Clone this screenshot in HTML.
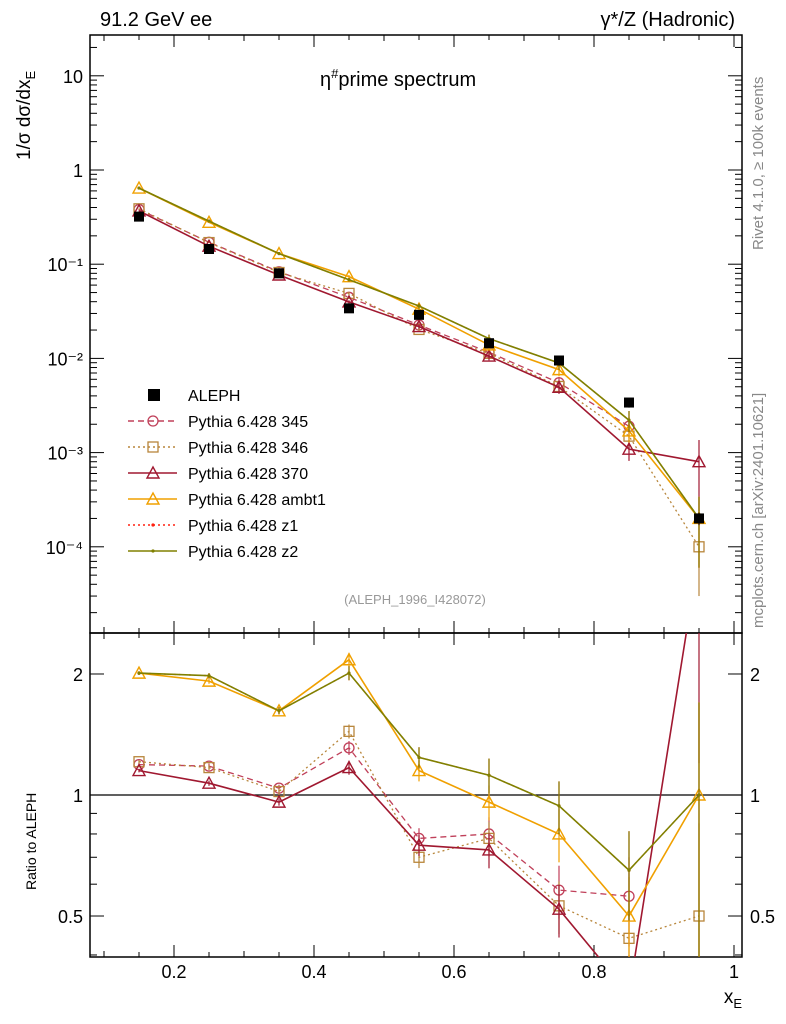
<!DOCTYPE html>
<html><head><meta charset="utf-8">
<style>
html,body{margin:0;padding:0;background:#fff;width:786px;height:1024px;overflow:hidden;}
svg{display:block;}
svg text{font-family:"Liberation Sans",sans-serif;}
</style></head>
<body>
<svg id="chart" width="786" height="1024" xmlns="http://www.w3.org/2000/svg">
<rect width="786" height="1024" fill="#fff"/>
<text x="100" y="26" font-size="20">91.2 GeV ee</text>
<text x="735" y="26" font-size="20" text-anchor="end">γ*/Z (Hadronic)</text>
<text x="320" y="86" font-size="20">η<tspan font-size="13" dy="-8">#</tspan><tspan dy="8">prime spectrum</tspan></text>
<text x="415" y="604" font-size="13" fill="#999" text-anchor="middle">(ALEPH_1996_I428072)</text>
<text transform="translate(763,250) rotate(-90)" font-size="15" fill="#888">Rivet 4.1.0, ≥ 100k events</text>
<text transform="translate(763,628) rotate(-90)" font-size="15" fill="#888">mcplots.cern.ch [arXiv:2401.10621]</text>
<text transform="translate(30,160) rotate(-90)" font-size="19">1/σ  dσ/dx<tspan font-size="13" dy="5">E</tspan></text>
<text transform="translate(36,890) rotate(-90)" font-size="14">Ratio to ALEPH</text>
<text x="742" y="1003" font-size="19" text-anchor="end">x<tspan font-size="13" dy="5">E</tspan></text>
<g id="g"></g>
</svg>
<script>
const xs=[0.15,0.25,0.35,0.45,0.55,0.65,0.75,0.85,0.95];
const aleph=[0.32,0.145,0.08,0.034,0.029,0.0145,0.0095,0.0034,0.0002];
const alephErr=[0.02,0.01,0.005,0.003,0.003,0.0015,0.001,0.0004,0.00003];
const r345=[1.19,1.18,1.04,1.31,0.78,0.80,0.58,0.56,null];
const r346=[1.21,1.17,1.02,1.44,0.70,0.78,0.53,0.44,0.5];
const r370=[1.15,1.07,0.96,1.17,0.75,0.73,0.52,0.32,4.0];
const rAmbt1=[2.01,1.92,1.62,2.17,1.15,0.96,0.80,0.50,1.0];
const rZ1=[2.01,1.98,1.62,2.01,1.24,1.12,0.94,0.65,1.0];
const rZ2=[2.01,1.98,1.62,2.01,1.24,1.12,0.94,0.65,1.0];
const relErr=[0.01,0.015,0.02,0.04,0.06,0.1,0.15,0.25,0.7];
const xTicks=[0.2,0.4,0.6,0.8,1];
const xTickLabels=["0.2","0.4","0.6","0.8","1"];
const yTicks=[10,1,0.1,0.01,0.001,0.0001];
const yTickLabels=["10","1","10⁻¹","10⁻²","10⁻³","10⁻⁴"];
const rTicks=[2,1,0.5];

const NS="http://www.w3.org/2000/svg";
const g=document.getElementById('g');
const L=90,R=742,T1=35,B1=633,T2=633,B2=957;
const X=v=>34+700*v;
const cl=(v,a,b)=>Math.min(b,Math.max(a,v));
const Y=v=>170-94.2*Math.log10(v);
const YR=v=>795-402*Math.log10(v);
const Yc=v=>cl(Y(v),T1,B1);
const YRc=v=>cl(YR(v),T2,B2);
function el(tag,at,parent){const e=document.createElementNS(NS,tag);for(const k in at)e.setAttribute(k,at[k]);(parent||g).appendChild(e);return e;}

const defs=el('defs',{});
const c1=el('clipPath',{id:'c1'},defs);el('rect',{x:L,y:T1,width:R-L,height:B1-T1},c1);
const c2=el('clipPath',{id:'c2'},defs);el('rect',{x:L,y:T2,width:R-L,height:B2-T2},c2);

const f1=el('rect',{x:L,y:T1,width:R-L,height:B1-T1,fill:'none',stroke:'#000','stroke-width':1.5});


const f2=el('rect',{x:L,y:T2,width:R-L,height:B2-T2,fill:'none',stroke:'#000','stroke-width':1.5});



for(let i=0;i<=10;i++){const v=0.1+i*0.1;const x=X(v);if(x<L||x>R)continue;
 const major=Math.abs((v*10)%2)<0.01||Math.abs((v*10)%2-2)<0.01;
 const len=major?12:6;
 [[T1,1],[B1,-1],[T2,1],[B2,-1]].forEach(([y,d])=>el('line',{x1:x,x2:x,y1:y,y2:y+d*len,stroke:'#000'}));}
for(let i=0;i<=18;i++){const v=0.1+i*0.05;const x=X(v);if(x<L||x>R)continue;
 [[T1,1],[B1,-1],[T2,1],[B2,-1]].forEach(([y,d])=>el('line',{x1:x,x2:x,y1:y,y2:y+d*5,stroke:'#000'}));}
xTicks.forEach((v,i)=>{const t=el('text',{x:X(v),y:978,'font-size':18,'text-anchor':'middle'});t.textContent=xTickLabels[i];
 
 });

for(let e=-5;e<=1;e++){for(let m=1;m<10;m++){const v=m*Math.pow(10,e);const y=Y(v);if(y<T1||y>B1)continue;
 const len=m==1?14:7;el('line',{x1:L,x2:L+len,y1:y,y2:y,stroke:'#000'});el('line',{x1:R,x2:R-len,y1:y,y2:y,stroke:'#000'});}}
yTicks.forEach((v,i)=>{const t=el('text',{x:83,y:Y(v)+7,'font-size':18,'text-anchor':'end'});t.textContent=yTickLabels[i];
 
 });
[0.4,0.5,0.6,0.7,0.8,0.9,1,2].forEach(v=>{const y=YR(v);const len=(v==1||v==2||v==0.5)?14:7;
 el('line',{x1:L,x2:L+len,y1:y,y2:y,stroke:'#000'});el('line',{x1:R,x2:R-len,y1:y,y2:y,stroke:'#000'});});
rTicks.forEach(v=>{[[83,'end'],[750,'start']].forEach(([x,a])=>{const t=el('text',{x:x,y:YR(v)+7,'font-size':18,'text-anchor':a});t.textContent=String(v);
 
 });});
el('line',{x1:L,x2:R,y1:YR(1),y2:YR(1),stroke:'#000','stroke-width':1.2});

const series=[
 {name:'345',r:r345,c:'#c0405a',dash:'6,4',m:'circle',w:1.3},
 {name:'346',r:r346,c:'#b8863b',dash:'2,3',m:'square',w:1.3},
 {name:'370',r:r370,c:'#a01830',dash:'',m:'tri',w:1.6},
 {name:'ambt1',r:rAmbt1,c:'#f0a000',dash:'',m:'tri',w:1.6},
 {name:'z1',r:rZ1,c:'#ff2010',dash:'2,3',m:'dot',w:1.3},
 {name:'z2',r:rZ2,c:'#808000',dash:'',m:'dot',w:1.6}];

function marker(m,x,y,c,parent){
 if(m=='circle')el('circle',{cx:x,cy:y,r:5,fill:'none',stroke:c,'stroke-width':1.3},parent);
 else if(m=='square')el('rect',{x:x-5,y:y-5,width:10,height:10,fill:'none',stroke:c,'stroke-width':1.3},parent);
 else if(m=='tri')el('path',{d:`M${x} ${y-6}L${x+6} ${y+5}L${x-6} ${y+5}Z`,fill:'none',stroke:c,'stroke-width':1.4},parent);
 else el('circle',{cx:x,cy:y,r:1.6,fill:c},parent);}

series.forEach(s=>{
 const gm=el('g',{'clip-path':'url(#c1)'});
 
 
 const gr=el('g',{'clip-path':'url(#c2)'});
 
 
 const pm=[],pr=[];
 xs.forEach((x,i)=>{if(s.r[i]==null)return;const v=s.r[i]*aleph[i];const e=relErr[i];
  pm.push([X(x),Y(v)]);pr.push([X(x),YR(s.r[i])]);
  el('line',{x1:X(x),x2:X(x),y1:Yc(v*(1+e)),y2:Yc(Math.max(v*(1-e),1e-6)),stroke:s.c,'stroke-width':1.2},gm);
  el('line',{x1:X(x),x2:X(x),y1:YRc(s.r[i]*(1+e)),y2:YRc(Math.max(s.r[i]*(1-e),0.1)),stroke:s.c,'stroke-width':1.2},gr);});
 const lp=p=>'M'+p.map(q=>q[0].toFixed(1)+' '+q[1].toFixed(1)).join('L');
 el('path',{d:lp(pm),fill:'none',stroke:s.c,'stroke-width':s.w,'stroke-dasharray':s.dash},gm);
 el('path',{d:lp(pr),fill:'none',stroke:s.c,'stroke-width':s.w,'stroke-dasharray':s.dash},gr);
 pm.forEach(p=>marker(s.m,p[0],p[1],s.c,gm));
 pr.forEach(p=>marker(s.m,p[0],p[1],s.c,gr));
});
const ga=el('g',{'clip-path':'url(#c1)'});


xs.forEach((x,i)=>{const px=X(x),py=Y(aleph[i]);
 el('line',{x1:px,x2:px,y1:Yc(aleph[i]+alephErr[i]),y2:Yc(aleph[i]-alephErr[i]),stroke:'#000'},ga);
 el('rect',{x:px-5,y:py-5,width:10,height:10,fill:'#000'},ga);});

const leg=[['ALEPH','#000','','sq'],['Pythia 6.428 345','#c0405a','6,4','circle'],['Pythia 6.428 346','#b8863b','2,3','square'],
 ['Pythia 6.428 370','#a01830','','tri'],['Pythia 6.428 ambt1','#f0a000','','tri'],['Pythia 6.428 z1','#ff2010','2,3','dot'],['Pythia 6.428 z2','#808000','','dot']];
leg.forEach((l,i)=>{const y=395+i*26;
 const lg=el('g',{});
 
 
 if(l[3]=='sq')el('rect',{x:148,y:y-6,width:12,height:12,fill:'#000'},lg);
 else{el('line',{x1:128,x2:177,y1:y,y2:y,stroke:l[1],'stroke-width':1.4,'stroke-dasharray':l[2]},lg);marker(l[3],153,y,l[1],lg);}
 const t=el('text',{x:188,y:y+6,'font-size':16},lg);t.textContent=l[0];});
</script>
</body></html>
